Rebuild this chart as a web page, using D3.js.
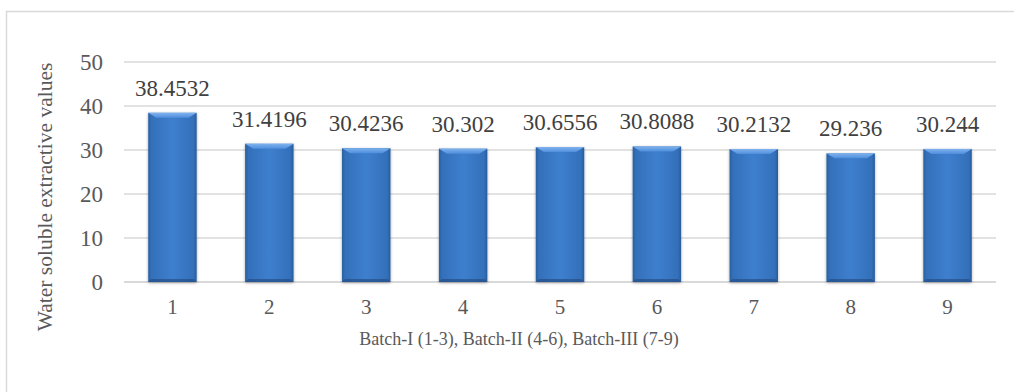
<!DOCTYPE html>
<html>
<head>
<meta charset="utf-8">
<script src="https://cdn.jsdelivr.net/npm/d3@7/dist/d3.min.js"></script>
<style>
  html, body { margin: 0; padding: 0; background: #fff; }
  svg { display: block; }
  svg text { font-family: "Liberation Serif", "Times New Roman", serif; }
</style>
</head>
<body>
<svg id="chart" width="1014" height="392"></svg>
<script>
// Batch numbers and their water soluble extractive values
const batches = ["1", "2", "3", "4", "5", "6", "7", "8", "9"];
const extractValues = [38.4532, 31.4196, 30.4236, 30.302, 30.6556, 30.8088, 30.2132, 29.236, 30.244];
const valueLabels = ["38.4532", "31.4196", "30.4236", "30.302", "30.6556", "30.8088", "30.2132", "29.236", "30.244"];
const yTicks = [0, 10, 20, 30, 40, 50];
const xTitle = "Batch-I (1-3), Batch-II (4-6), Batch-III (7-9)";
const yTitle = "Water soluble extractive values";

const svg = d3.select("#chart");
const W = 1014, H = 392;
const plot = { left: 124, right: 996, top: 62, bottom: 282 };

// Outer chart frame
svg.append("rect")
  .attr("x", 6.5).attr("y", 11.5)
  .attr("width", W + 10).attr("height", H + 10)
  .attr("fill", "#fff").attr("stroke", "#d9d9d9").attr("stroke-width", 1.5);

const x = d3.scaleBand().domain(batches)
  .range([plot.left, plot.right]).paddingInner(0.5).paddingOuter(0.25);
const y = d3.scaleLinear().domain([0, 50]).range([plot.bottom, plot.top]);

// Gradients for the bevelled bars
const defs = svg.append("defs");
const bodyGrad = defs.append("linearGradient").attr("id", "barBody")
  .attr("x1", "0").attr("x2", "1").attr("y1", "0").attr("y2", "0");
bodyGrad.append("stop").attr("offset", "0").attr("stop-color", "#29609f");
bodyGrad.append("stop").attr("offset", "0.07").attr("stop-color", "#3470ba");
bodyGrad.append("stop").attr("offset", "0.5").attr("stop-color", "#3e7fce");
bodyGrad.append("stop").attr("offset", "0.93").attr("stop-color", "#3470ba");
bodyGrad.append("stop").attr("offset", "1").attr("stop-color", "#285c9c");

const topGrad = defs.append("linearGradient").attr("id", "barTop")
  .attr("x1", "0").attr("x2", "0").attr("y1", "0").attr("y2", "1");
topGrad.append("stop").attr("offset", "0").attr("stop-color", "#7fb2ee");
topGrad.append("stop").attr("offset", "1").attr("stop-color", "#4f8edc");

const shadow = defs.append("filter").attr("id", "barShadow")
  .attr("x", "-20%").attr("y", "-5%").attr("width", "140%").attr("height", "110%");
shadow.append("feGaussianBlur").attr("in", "SourceAlpha").attr("stdDeviation", 1.5).attr("result", "b");
shadow.append("feOffset").attr("in", "b").attr("dx", 0).attr("dy", 1).attr("result", "o");
shadow.append("feComponentTransfer").attr("in", "o").attr("result", "s")
  .append("feFuncA").attr("type", "linear").attr("slope", 0.35);
const merge = shadow.append("feMerge");
merge.append("feMergeNode").attr("in", "s");
merge.append("feMergeNode").attr("in", "SourceGraphic");

// Horizontal gridlines
svg.append("g").selectAll("line").data(yTicks).join("line")
  .attr("x1", plot.left).attr("x2", plot.right)
  .attr("y1", d => y(d)).attr("y2", d => y(d))
  .attr("stroke", "#d9d9d9").attr("stroke-width", d => d === 0 ? 2 : 1.5);

// Y-axis tick labels
const yAxis = svg.append("g")
  .attr("transform", `translate(${plot.left - 21},0)`)
  .call(d3.axisLeft(y).tickValues(yTicks).tickSize(0).tickPadding(0));
yAxis.attr("font-family", null);
yAxis.select(".domain").remove();
yAxis.selectAll("text")
  .attr("font-size", 23).attr("fill", "#595959").attr("dy", "0.34em");

// X-axis tick labels
const xAxis = svg.append("g")
  .attr("transform", `translate(0,${plot.bottom})`)
  .call(d3.axisBottom(x).tickSize(0).tickPadding(0));
xAxis.attr("font-family", null);
xAxis.select(".domain").remove();
xAxis.selectAll("text")
  .attr("font-size", 21).attr("fill", "#595959").attr("dy", "1.5em");

// Bars
const data = batches.map((b, i) => ({ b, v: extractValues[i], label: valueLabels[i] }));
const bw = x.bandwidth();
const bev = 5, side = 3;
const bars = svg.append("g").selectAll("g").data(data).join("g")
  .attr("filter", "url(#barShadow)");
bars.append("rect")
  .attr("x", d => x(d.b)).attr("y", d => y(d.v))
  .attr("width", bw).attr("height", d => y(0) - y(d.v))
  .attr("fill", "url(#barBody)");
// top bevel
bars.append("polygon")
  .attr("points", d => {
    const x0 = x(d.b), y0 = y(d.v);
    return [[x0, y0], [x0 + bw, y0], [x0 + bw - bev * 1.6, y0 + bev], [x0 + bev * 1.6, y0 + bev]].join(" ");
  })
  .attr("fill", "url(#barTop)");
// bottom edge
bars.append("polygon")
  .attr("points", d => {
    const x0 = x(d.b), y1 = y(0);
    return [[x0, y1], [x0 + bw, y1], [x0 + bw - side, y1 - side], [x0 + side, y1 - side]].join(" ");
  })
  .attr("fill", "#264f86").attr("opacity", 0.7);

// Value labels above bars
svg.append("g").selectAll("text").data(data).join("text")
  .attr("x", d => x(d.b) + bw / 2)
  .attr("y", d => y(d.v) - 17)
  .attr("text-anchor", "middle")
  .attr("font-size", 23).attr("fill", "#404040")
  .text(d => d.label);

// Axis titles
svg.append("text")
  .attr("x", (plot.left + plot.right) / 2 - 41).attr("y", 345)
  .attr("text-anchor", "middle").attr("font-size", 18).attr("fill", "#595959")
  .text(xTitle);
svg.append("text")
  .attr("transform", `translate(52,197) rotate(-90)`)
  .attr("text-anchor", "middle").attr("font-size", 21.5).attr("fill", "#595959")
  .text(yTitle);
</script>
</body>
</html>
